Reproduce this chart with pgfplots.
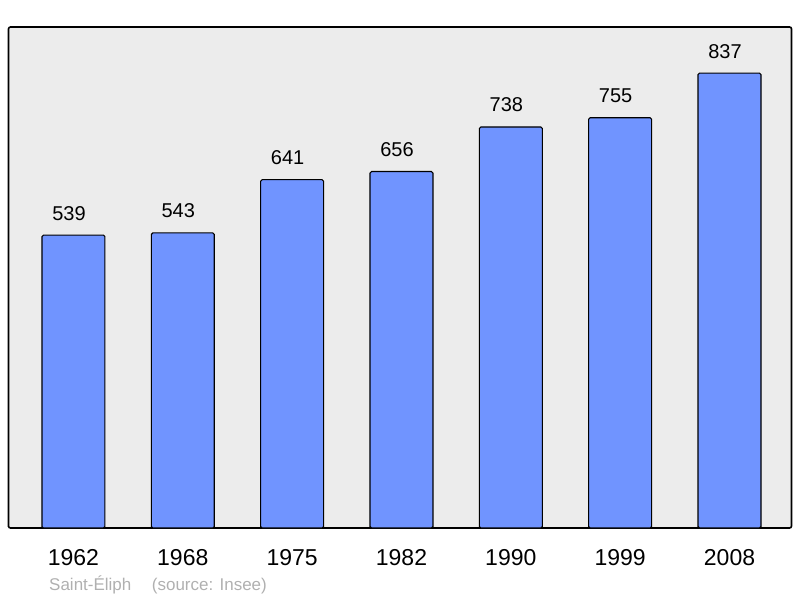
\documentclass[border=0pt]{standalone}
\usepackage{fontspec}
\setmainfont{Liberation Sans}
\usepackage{pgfplots}
\pgfplotsset{compat=1.18}
\definecolor{barblue}{RGB}{112,148,255}
\definecolor{panel}{RGB}{236,236,236}
\definecolor{foot}{RGB}{176,176,176}

\begin{document}
\begin{tikzpicture}
  \begin{axis}[
    scale only axis,
    width=783pt, height=501pt,
    xmin=-0.594, xmax=6.567,
    ymin=0, ymax=922,
    axis background/.style={fill=panel},
    axis line style={line width=1.6pt, black, rounded corners=2pt},
    xtick={0,...,6},
    xticklabels={1962,1968,1975,1982,1990,1999,2008},
    ytick=\empty,
    major tick length=0pt,
    xticklabel style={font=\fontsize{23}{26}\selectfont, anchor=base, yshift=-37pt},
    /pgf/number format/assume math mode=true,
    ybar, bar width=0.576,
    nodes near coords,
    every node near coord/.append style={font=\fontsize{20}{22}\selectfont, anchor=base, yshift=15pt, xshift=-4.5pt, inner sep=0pt},
    clip=false,
  ]
    \addplot[fill=barblue, draw=black, line width=1.1pt, rounded corners=1.5pt]
      coordinates {(0,539)(1,543)(2,641)(3,656)(4,738)(5,755)(6,837)};
  \end{axis}
  \node[anchor=base west, inner sep=0pt, text=foot, font=\fontsize{17}{19}\selectfont] at (40.5pt,-62.7pt) {Saint-Éliph};
  \node[anchor=base west, inner sep=0pt, text=foot, font=\fontsize{17}{19}\selectfont] at (143.2pt,-62.7pt) {(source: Insee)};
  \path[use as bounding box] (-8.5pt,-70pt) rectangle (791.5pt,528pt);
\end{tikzpicture}
\end{document}
